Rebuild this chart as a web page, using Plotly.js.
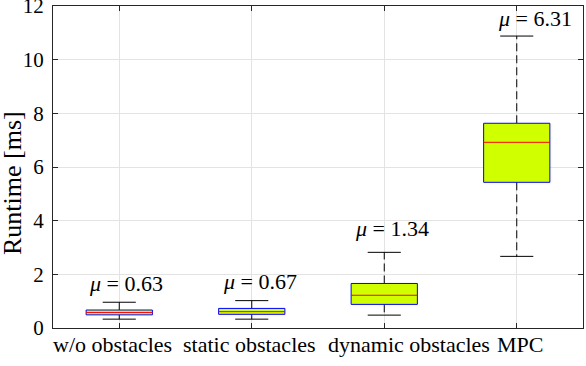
<!DOCTYPE html>
<html>
<head>
<meta charset="utf-8">
<script src="https://cdn.plot.ly/plotly-3.0.1.min.js"></script>
<style>html,body{margin:0;padding:0;background:#fff;}#chart{width:586px;height:366px;}</style>
</head>
<body>
<div id="chart"></div>
<script>
// ---- data ----
const categories   = ['w/o obstacles', 'static obstacles', 'dynamic obstacles', 'MPC'];
const lowerWhisker = [0.33, 0.33, 0.48, 2.67];
const q1           = [0.49, 0.51, 0.88, 5.43];
const medians      = [0.58, 0.61, 1.22, 6.92];
const q3           = [0.67, 0.73, 1.66, 7.63];
const upperWhisker = [0.96, 1.02, 2.82, 10.88];
const means        = [0.63, 0.67, 1.34, 6.31];
const yTicks       = [0, 2, 4, 6, 8, 10, 12];

// ---- style ----
const FONT = '"Liberation Serif"';
const BOX_HALF = 0.25, CAP_HALF = 0.125;
const muShiftX = [7, 8, 8, 18];
const muShiftY = [4, 5, 9, 3];
const catShiftX = [-7, -2, 25, 3];

const pos = categories.map((_, i) => i + 1);

// whiskers
const wx = [], wy = [];
pos.forEach((p, i) => {
  wx.push(p, p, null, p, p, null);
  wy.push(q3[i], upperWhisker[i], null, q1[i], lowerWhisker[i], null);
});
// caps
const cx = [], cy = [];
pos.forEach((p, i) => {
  cx.push(p - CAP_HALF, p + CAP_HALF, null, p - CAP_HALF, p + CAP_HALF, null);
  cy.push(upperWhisker[i], upperWhisker[i], null, lowerWhisker[i], lowerWhisker[i], null);
});
// boxes
const bx = [], by = [];
pos.forEach((p, i) => {
  bx.push(p - BOX_HALF, p + BOX_HALF, p + BOX_HALF, p - BOX_HALF, p - BOX_HALF, null);
  by.push(q1[i], q1[i], q3[i], q3[i], q1[i], null);
});
// medians
const mx = [], my = [];
pos.forEach((p, i) => {
  mx.push(p - BOX_HALF, p + BOX_HALF, null);
  my.push(medians[i], medians[i], null);
});

const traces = [
  {x: wx, y: wy, mode: 'lines', line: {color: '#000', width: 1, dash: '8px,4px'}, hoverinfo: 'skip'},
  {x: cx, y: cy, mode: 'lines', line: {color: '#000', width: 1}, hoverinfo: 'skip'},
  {x: bx, y: by, mode: 'lines', fill: 'toself', fillcolor: '#d0ff00', line: {color: '#0000ff', width: 1}, hoverinfo: 'skip'},
  {x: mx, y: my, mode: 'lines', line: {color: '#ff0000', width: 1}, hoverinfo: 'skip'}
];

const muNotes = pos.map((p, i) => ({
  x: p, y: upperWhisker[i], xref: 'x', yref: 'y',
  text: '<i>μ</i> = ' + means[i].toFixed(2),
  showarrow: false, xanchor: 'center', yanchor: 'bottom',
  xshift: muShiftX[i], yshift: muShiftY[i],
  font: {family: FONT, size: 22, color: '#000'}
}));

// category labels (drawn as annotations so they can be nudged apart like the original)
const catNotes = pos.map((p, i) => ({
  x: p, y: 0, xref: 'x', yref: 'paper',
  text: categories[i], showarrow: false,
  xanchor: 'center', yanchor: 'top', xshift: catShiftX[i], yshift: -2,
  font: {family: FONT, size: 22, color: '#000'}
}));

const yTitle = {
  x: 0, y: 0.5, xref: 'paper', yref: 'paper',
  text: 'Runtime [ms]', showarrow: false, textangle: -90,
  xanchor: 'center', yanchor: 'middle', xshift: -41, yshift: -16,
  font: {family: FONT, size: 26, color: '#000'}
};

const axisCommon = {
  showline: true, linecolor: '#262626', linewidth: 1, mirror: 'ticks',
  ticks: 'inside', ticklen: 5, tickcolor: '#262626', tickwidth: 1,
  showgrid: true, gridcolor: '#e3e3e3', gridwidth: 1, zeroline: false,
  ticklabeloverflow: 'allow',
  tickfont: {family: FONT, size: 21, color: '#000'}
};

const layout = {
  width: 586, height: 366,
  margin: {l: 53, r: 3, t: 6, b: 38},
  paper_bgcolor: '#fff', plot_bgcolor: '#fff',
  showlegend: false,
  xaxis: Object.assign({}, axisCommon, {
    range: [0.5, 4.5], tickvals: pos, ticktext: categories, showticklabels: false
  }),
  yaxis: Object.assign({}, axisCommon, {
    range: [0, 12], tickvals: yTicks, ticklabelstandoff: 4
  }),
  annotations: muNotes.concat(catNotes, [yTitle])
};

Plotly.newPlot('chart', traces, layout, {displayModeBar: false, staticPlot: true});
</script>
</body>
</html>
